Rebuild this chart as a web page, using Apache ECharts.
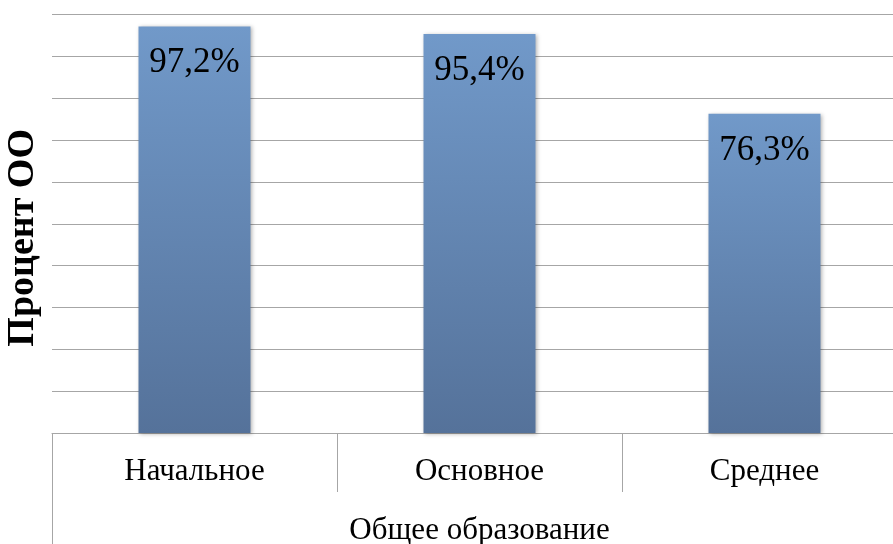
<!DOCTYPE html>
<html>
<head>
<meta charset="utf-8">
<script src="https://cdn.jsdelivr.net/npm/echarts@6/dist/echarts.min.js"></script>
<style>
  html, body { margin: 0; padding: 0; background: #fff; }
  #chart { width: 893px; height: 544px; }
</style>
</head>
<body>
<div id="chart"></div>
<script>
// данные диаграммы
const categories = ["Начальное", "Основное", "Среднее"];
const groupLabel = ["Общее образование"];
const values = [97.2, 95.4, 76.3];
const yTitle = "Процент ОО";

const chart = echarts.init(document.getElementById("chart"));
const serif = "'Liberation Serif', 'Times New Roman', serif";

const option = {
  animation: false,
  grid: {
    left: 52,
    top: 14.7,
    width: 855,
    height: 418.3,
    containLabel: false,
    outerBoundsMode: "none",
  },
  xAxis: [
    {
      type: "category",
      data: categories,
      axisLine: { lineStyle: { color: "#a6a6a6", width: 1 } },
      axisTick: {
        show: true,
        interval: 0,
        alignWithLabel: false,
        length: 59,
        lineStyle: { color: "#a6a6a6" },
      },
      axisLabel: {
        color: "#000",
        fontFamily: serif,
        fontSize: 31,
        margin: 23,
      },
    },
    {
      type: "category",
      position: "bottom",
      data: groupLabel,
      axisLine: { show: false },
      axisTick: {
        show: true,
        interval: 0,
        alignWithLabel: false,
        length: 120,
        lineStyle: { color: "#a6a6a6" },
      },
      axisLabel: {
        color: "#000",
        fontFamily: serif,
        fontSize: 31,
        margin: 82,
      },
    },
  ],
  yAxis: {
    type: "value",
    min: 0,
    max: 100,
    interval: 10,
    name: yTitle,
    nameLocation: "middle",
    nameGap: 10,
    nameTextStyle: {
      color: "#000",
      fontFamily: serif,
      fontWeight: "bold",
      fontSize: 38,
      padding: [0, 28, 0, 0],
    },
    axisLine: { show: false },
    axisTick: { show: false },
    axisLabel: { show: false },
    splitLine: { lineStyle: { color: "#a6a6a6", width: 1 } },
  },
  series: [
    {
      type: "bar",
      data: values,
      barWidth: 112,
      itemStyle: {
        color: new echarts.graphic.LinearGradient(0, 0, 0, 1, [
          { offset: 0, color: "#7199c9" },
          { offset: 1, color: "#55729a" },
        ]),
        shadowColor: "rgba(0,0,0,0.3)",
        shadowBlur: 4,
        shadowOffsetX: 1,
        shadowOffsetY: 1,
      },
      label: {
        show: true,
        position: "insideTop",
        distance: 19,
        color: "#000",
        fontFamily: serif,
        fontSize: 35,
        formatter: (p) => p.value.toFixed(1).replace(".", ",") + "%",
      },
    },
  ],
};

chart.setOption(option);
</script>
</body>
</html>
